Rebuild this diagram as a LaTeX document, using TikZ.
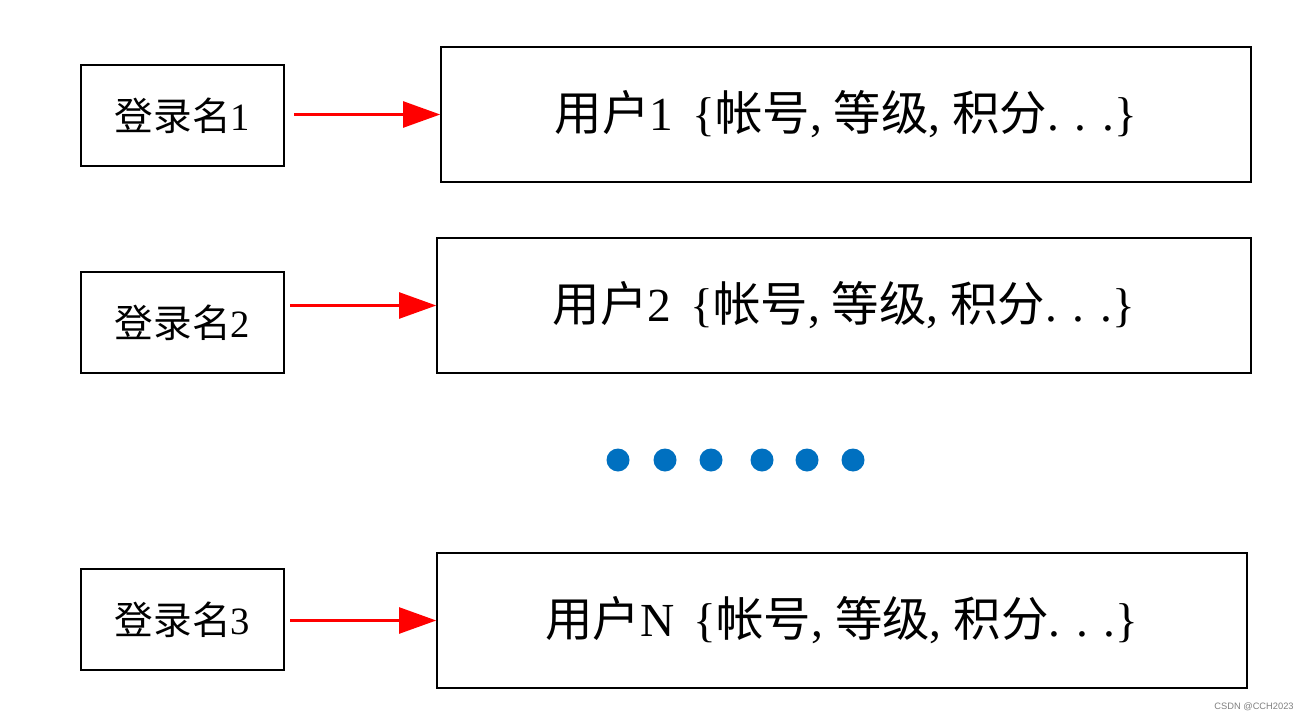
\documentclass[tikz,border=0pt]{standalone}
\usepackage{fontspec}
\setmainfont{Liberation Serif}
\newfontfamily\cjk{Noto Sans CJK SC}
\newfontfamily\marksans{Liberation Sans}
\definecolor{linkred}{RGB}{255, 0, 0}
\definecolor{dotblue}{RGB}{0, 112, 192}
\usetikzlibrary{arrows.meta, positioning}

\tikzset{
  loginbox/.style={draw, line width=1pt, minimum width=4.06cm, minimum height=2.02cm, inner sep=0pt, font=\fontsize{22}{26}\selectfont},
  userbox/.style={draw, line width=1pt, minimum width=16.2cm, minimum height=2.7cm, inner sep=0pt, font=\fontsize{27}{32}\selectfont},
  link/.style={linkred, line width=1.3pt, -{Triangle[length=0.74cm, width=0.52cm]}}
}

\begin{document}
\begin{tikzpicture}[x=0.02cm, y=-0.02cm]
  \useasboundingbox (0,0) rectangle (1308,723);

  % login names
  \node[loginbox] (login1) at (182.5, 115.5) {{\cjk 登录名}1};
  \node[loginbox] (login2) at (182.5, 322.5) {{\cjk 登录名}2};
  \node[loginbox] (login3) at (182.5, 619.5) {{\cjk 登录名}3};

  % user records
  \node[userbox] (user1) at (846, 114.5) {{\cjk 用户}1\hspace{0.4em}\{{\cjk 帐号}, {\cjk 等级}, {\cjk 积分}. . .\}\hspace{0.4em}};
  \node[userbox, minimum width=16.28cm] (user2) at (844, 305.5) {{\cjk 用户}2\hspace{0.4em}\{{\cjk 帐号}, {\cjk 等级}, {\cjk 积分}. . .\}\hspace{0.4em}};
  \node[userbox] (userN) at (842, 620.5) {{\cjk 用户}N\hspace{0.4em}\{{\cjk 帐号}, {\cjk 等级}, {\cjk 积分}. . .\}\hspace{0.4em}};

  % arrows
  \coordinate (s1) at (294, 114.5);
  \coordinate (s2) at (290, 305.5);
  \coordinate (s3) at (290, 620.5);
  \draw[link] (s1) -- (user1.west);
  \draw[link] (s2) -- (user2.west);
  \draw[link] (s3) -- (userN.west);

  % ellipsis dots
  \foreach \x in {618, 665, 711, 762, 807, 853}
    \fill[dotblue] (\x, 460) circle (11.5);

  \node[font=\marksans\fontsize{5.3}{7}\selectfont, text=gray] (mark) at (1254, 707) {CSDN @CCH2023};
\end{tikzpicture}
\end{document}
